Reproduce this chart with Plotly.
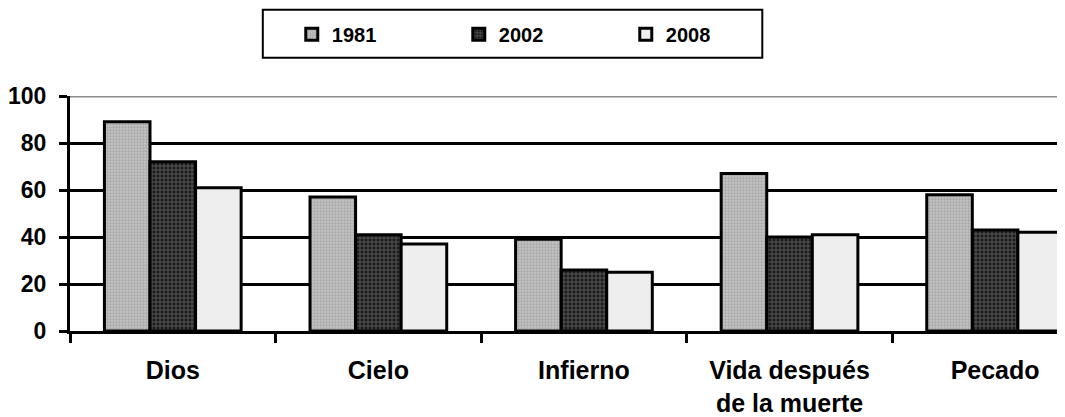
import plotly.graph_objects as go

categories = ["Dios", "Cielo", "Infierno", "Vida después<br>de la muerte", "Pecado"]
v1981 = [89, 57, 39, 67, 58]
v2002 = [72, 41, 26, 40, 43]
v2008 = [61, 37, 25, 41, 42]
y_ticks = [0, 20, 40, 60, 80, 100]

FONT = "Liberation Sans, Arial, sans-serif"
OFF = 8  # page body margin offset
W, H = 1065 - OFF, 417 - OFF
ML, MR, MT, MB = 69 - OFF, 0, 96 - OFF, 81
PW = W - ML - MR
PH = H - MT - MB

fig = go.Figure()
fig.add_bar(
    name="1981", x=categories, y=v1981,
    marker=dict(color="#c4c4c4", line=dict(color="black", width=3),
                pattern=dict(shape=".", fgcolor="#8a8a8a", size=3, solidity=0.45)),
)
fig.add_bar(
    name="2002", x=categories, y=v2002,
    marker=dict(color="#1c1c1c", line=dict(color="black", width=3),
                pattern=dict(shape="+", fgcolor="#a8a8a8", size=4, solidity=0.35)),
)
fig.add_bar(
    name="2008", x=categories, y=v2008,
    marker=dict(color="#eeeeee", line=dict(color="black", width=3)),
)

def px_x(p):
    return (p - OFF - ML) / PW

def px_y(p):
    return (H - MB - (p - OFF)) / PH

fig.update_layout(
    width=W, height=H,
    margin=dict(l=ML, r=MR, t=MT, b=MB, pad=0),
    paper_bgcolor="white", plot_bgcolor="white",
    barmode="group", bargap=0.335, bargroupgap=0,
    font=dict(family=FONT, color="black", weight="bold"),
    showlegend=True,
    legend=dict(
        orientation="h", x=px_x(262 + 29), xanchor="left",
        y=px_y(33), yanchor="middle",
        font=dict(size=20, family=FONT, weight="bold"),
        entrywidth=122, bgcolor="rgba(0,0,0,0)", borderwidth=0,
        traceorder="normal",
    ),
    xaxis=dict(
        range=[-0.5, 4.34], showgrid=False, showline=True,
        linecolor="black", linewidth=3,
        ticks="outside", tickson="boundaries", ticklen=9, tickwidth=3,
        tickcolor="black", tickfont=dict(size=25, family=FONT, weight="bold"),
        ticklabelstandoff=15,
    ),
    yaxis=dict(
        range=[0, 100], tickvals=y_ticks, showgrid=False,
        showline=True, linecolor="black", linewidth=3,
        ticks="outside", ticklen=8, tickwidth=3, tickcolor="black",
        tickfont=dict(size=23, family=FONT, weight="bold"),
        ticklabelstandoff=8, zeroline=False,
        minor=dict(tickvals=[20, 40, 60, 80], showgrid=True,
                   gridcolor="black", gridwidth=3, ticks=""),
    ),
    shapes=[
        dict(type="line", xref="paper", yref="y", x0=0, x1=1, y0=100, y1=100,
             line=dict(color="#8c8c8c", width=3), layer="below"),
        dict(type="rect", xref="paper", yref="paper",
             x0=px_x(262), x1=px_x(762), y0=px_y(57), y1=px_y(8),
             line=dict(color="black", width=2), fillcolor="rgba(0,0,0,0)"),
    ],
)

fig.write_html("out.html")
